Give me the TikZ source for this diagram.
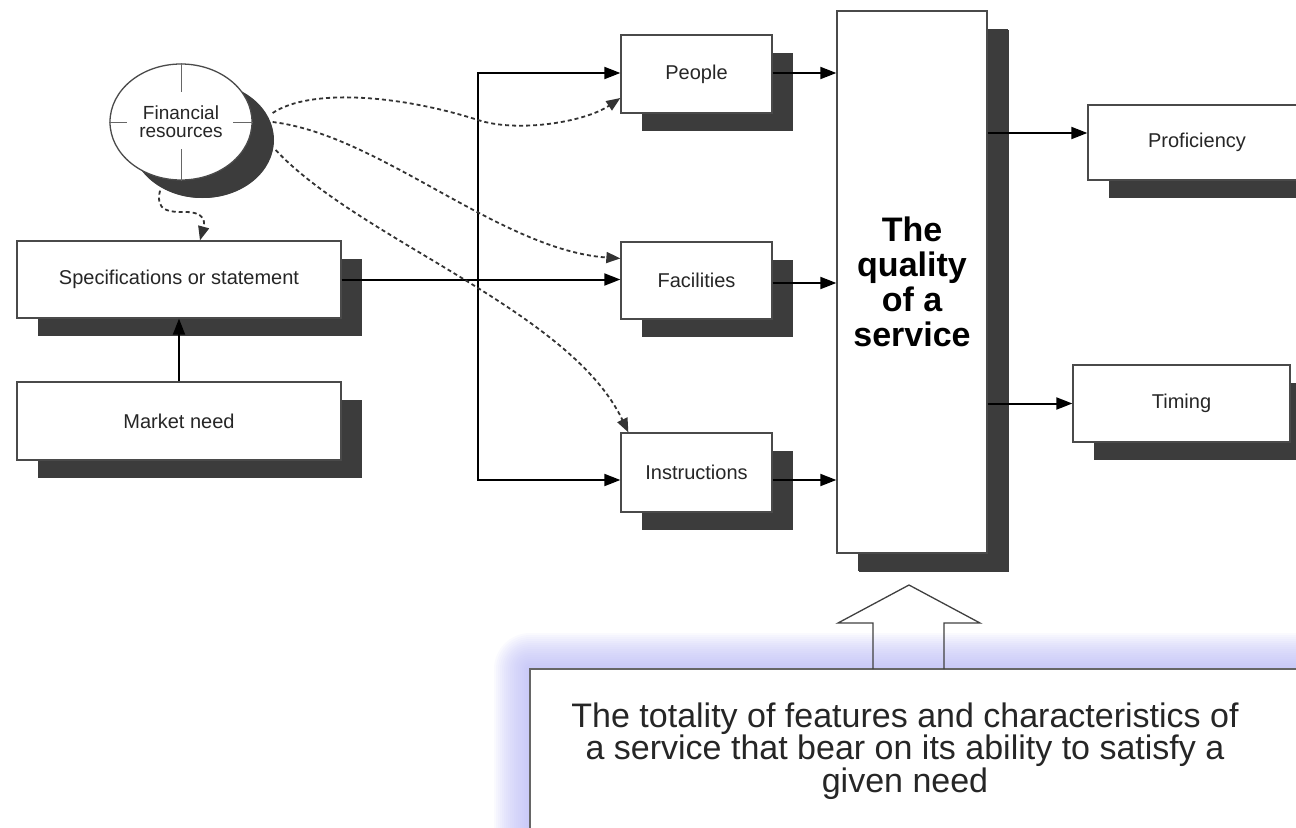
\documentclass[tikz,border=0pt]{standalone}
\usepackage{fontspec}
\setmainfont{Liberation Sans}
\usetikzlibrary{shapes.geometric,shadows,arrows.meta,calc}
\definecolor{shade}{HTML}{3C3C3C}
\definecolor{edge}{HTML}{4A4A4A}
\definecolor{glow}{RGB}{180,180,245}
\begin{document}
\begin{tikzpicture}[x=1bp,y=-1bp,
  box/.style={draw=edge, line width=1.3bp, fill=white, rectangle, inner sep=0pt,
    text=black!85, font=\fontsize{20bp}{22bp}\selectfont,
    drop shadow={shadow xshift=21bp, shadow yshift=-18bp, fill=shade, opacity=1}},
  arr/.style={line width=2bp, -{Triangle[length=16bp,width=12bp]}},
  dsh/.style={line width=1.8bp, black!80, dash pattern=on 4bp off 3bp, -{Triangle[length=14bp,width=11bp]}},
  cross/.style={draw=black!60, line width=1bp}
]
\useasboundingbox (0,0) rectangle (1296,828);
\clip (0,0) rectangle (1296,828);

% glow around definition box
\foreach \i in {1,...,18}{
  \fill[glow, opacity=0.065, rounded corners=2*\i bp] (530-2*\i,669-2*\i) rectangle (1340,870);
}
\node[draw=black!60, line width=1.8bp, fill=white, rectangle, inner sep=0pt,
  minimum width=800bp, minimum height=192bp] (def) at (930,765) {};
\node[align=center, text=black!85, font=\fontsize{34bp}{31bp}\selectfont] (deftext) at (905,751)
  {The totality of features and characteristics of\\a service that bear on its ability to satisfy a\\given need};

% hollow arrow
\draw[line width=1.3bp, black!75] (873,669) -- (873,623) -- (838,623) -- (909,585) -- (980,623) -- (944,623) -- (944,669);

% nodes
\node[box, ellipse, minimum width=142bp, minimum height=116bp, align=center,
  font=\fontsize{19bp}{18bp}\selectfont,
  drop shadow={shadow xshift=22bp, shadow yshift=-18bp, fill=shade, opacity=1}]
  (fin) at (181,122) {Financial\\resources};
\draw[cross] (fin.north) -- ++(0,29);
\draw[cross] (fin.south) -- ++(0,-32);
\draw[cross] (fin.west) -- ++(18,0);
\draw[cross] (fin.east) -- ++(-20,0);

\node[box, minimum width=324bp, minimum height=77bp] (spec) at (179,279.5) {Specifications or statement};
\node[box, minimum width=324bp, minimum height=78bp] (market) at (179,421) {Market need};
\node[box, minimum width=151bp, minimum height=78bp] (people) at (696.5,74) {People};
\node[box, minimum width=151bp, minimum height=77bp] (facil) at (696.5,280.5) {Facilities};
\node[box, minimum width=151bp, minimum height=79bp] (instr) at (696.5,472.5) {Instructions};
\node[box, minimum width=150bp, minimum height=542bp, align=center, text=black,
  font=\fontsize{34bp}{35bp}\selectfont\bfseries,
  drop shadow={shadow xshift=22bp, shadow yshift=-19bp, fill=shade, opacity=1}]
  (quality) at (912,282) {The\\quality\\of a\\service};
\node[box, minimum width=218bp, minimum height=75bp] (prof) at (1197,142.5) {Proficiency};
\node[box, minimum width=217bp, minimum height=77bp] (timing) at (1181.5,403.5) {Timing};

% solid connectors
\draw[arr] (market.north) -- (spec.south);
\draw[arr] (spec.east) -- (spec.east -| facil.west);
\coordinate (bt) at (478,73);
\coordinate (bb) at (478,480);
\draw[line width=2bp, {Triangle[length=16bp,width=12bp]}-{Triangle[length=16bp,width=12bp]}]
  (people.west |- bt) -- (bt) -- (bb) -- (instr.west |- bb);
\draw[arr] ([yshift=1bp]people.east) -- ([yshift=1bp]people.east -| quality.west);
\draw[arr] ([yshift=-2.5bp]facil.east) -- ([yshift=-2.5bp]facil.east -| quality.west);
\draw[arr] ([yshift=-7.5bp]instr.east) -- ([yshift=-7.5bp]instr.east -| quality.west);
\draw[arr] ([yshift=9.5bp]prof.west -| quality.east) -- ([yshift=9.5bp]prof.west);
\draw[arr] (timing.west -| quality.east) -- (timing.west);

% dashed connectors from financial resources
\draw[dsh] ($(fin.east)+(20,-9)$) .. controls (310,88) and (400,95) .. (478,120)
  .. controls (518,133) and (585,122) .. ([yshift=-24bp]people.west);
\draw[dsh] ($(fin.east)+(20,0)$) .. controls (380,135) and (500,250) .. ([yshift=22bp]facil.west);
\draw[dsh] ($(fin.east)+(23,28)$) .. controls (360,240) and (570,310) .. ([xshift=8bp]instr.north west);
\draw[dsh] ($(fin.south)+(-21,10)$) .. controls (155,212) and (170,212) .. (185,212)
  .. controls (205,212) and (205,222) .. ([xshift=21bp]spec.north);
\end{tikzpicture}
\end{document}
